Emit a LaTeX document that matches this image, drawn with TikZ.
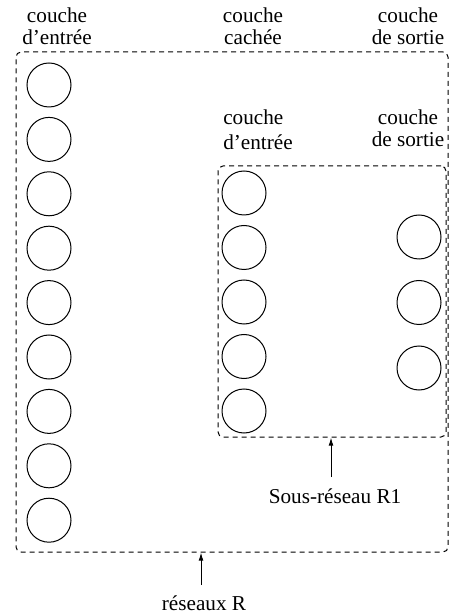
\documentclass[tikz,border=0pt]{standalone}
\usepackage{fontspec}
\setmainfont{Liberation Serif}
\usetikzlibrary{arrows.meta}
\begin{document}
\begin{tikzpicture}[x=0.5pt,y=-0.5pt,
  neuron/.style={circle,draw,line width=0.5pt,minimum size=22pt,inner sep=0pt},
  netbox/.style={draw,line width=0.5pt,dash pattern=on 2.5pt off 2pt,rounded corners=2.5pt,inner sep=0pt},
  lbl/.style={font=\fontsize{10.6}{11}\selectfont,align=center,inner sep=0pt},
  pointer/.style={line width=0.5pt,-{Latex[length=4pt,width=2.4pt]}}]
\useasboundingbox (0,0) rectangle (451,613);

% network R and subnetwork R1
\node[netbox,minimum width=216pt,minimum height=250pt] (R) at (232,302) {};
\node[netbox,minimum width=114pt,minimum height=135.5pt] (R1) at (332,301.5) {};

% input layer of R
\foreach \i in {0,...,8}
  \node[neuron] (in\i) at (49,{85+54.4*\i}) {};

% input layer of R1
\foreach \i in {0,...,4}
  \node[neuron] (sin\i) at (244,{193+54.5*\i}) {};

% output layer of R1
\foreach \i in {0,...,2}
  \node[neuron] (sout\i) at (419,{237+65.5*\i}) {};

% layer titles
\node[lbl] (t1) at (57,26) {couche\\d’entrée};
\node[lbl] (t2) at (253,26) {couche\\cachée};
\node[lbl] (t3) at (408,26) {couche\\de sortie};
\node[lbl,align=left,font=\fontsize{10.6}{12.5}\selectfont] (t4) at (258,130) {couche\\d’entrée};
\node[lbl] (t5) at (408,128) {couche\\de sortie};

% captions with pointers
\node[lbl] (capR1) at (335,496) {Sous-réseau R1};
\coordinate (r1tail) at (331,477);
\draw[pointer] (r1tail) -- (r1tail |- R1.south);

\node[lbl] (capR) at (204,603) {réseaux R};
\coordinate (rtail) at (201,585);
\draw[pointer] (rtail) -- (rtail |- R.south);
\end{tikzpicture}
\end{document}
